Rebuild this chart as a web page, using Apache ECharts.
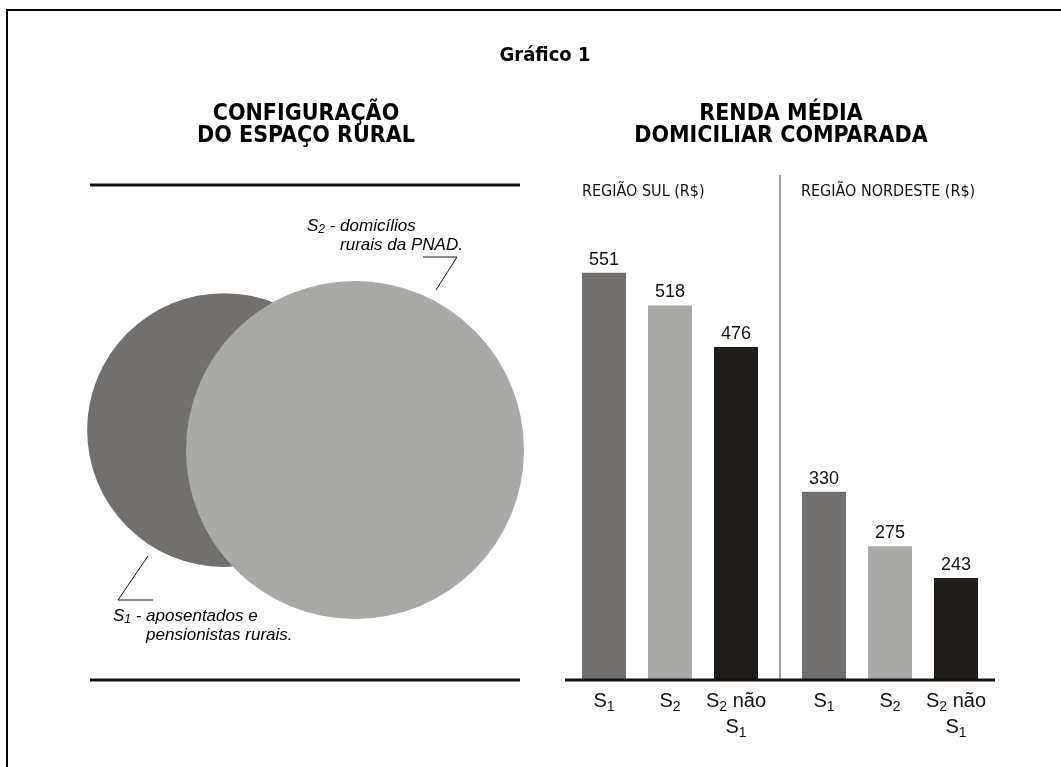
<!DOCTYPE html>
<html>
<head>
<meta charset="utf-8">
<script src="https://cdn.jsdelivr.net/npm/echarts@6/dist/echarts.min.js"></script>
<style>
html,body{margin:0;padding:0;background:#fff;}
#c{width:1061px;height:767px;}
</style>
</head>
<body>
<div id="c"></div>
<script>
// ---- data ----
const chartTitle = 'Gráfico 1';
const leftTitle = 'CONFIGURAÇÃO\nDO ESPAÇO RURAL';
const rightTitle = 'RENDA MÉDIA\nDOMICILIAR COMPARADA';
const regions = ['REGIÃO SUL (R$)', 'REGIÃO NORDESTE (R$)'];
const categories = ['S1', 'S2', 'S2 não S1'];
const sulValues = [551, 518, 476];
const nordesteValues = [330, 275, 243];
// Venn sets (schematic units: center x, center y, radius)
const vennSets = ['S1', 'S2'];
const vennCenterX = [-0.775, 0];
const vennCenterY = [0.118, 0];
const vennRadius = [0.81, 1];
const vennNotes = ['S1 - aposentados e\npensionistas rurais.', 'S2 - domicílios\nrurais da PNAD.'];

// ---- styles ----
const barColors = ['#72706e', '#a9a9a8', '#201c1a'];
const vennColors = ['#72706e', '#a9a9a8'];
const condFont = '"Liberation Sans Narrow", "DejaVu Sans Condensed", "Liberation Sans", Arial, sans-serif';
const sansFont = '"Liberation Sans", Arial, sans-serif';

function catLabel(v) {
  if (v === 'S1') return '{s|S}{sub|1}';
  if (v === 'S2') return '{s|S}{sub|2}';
  return '{s|S}{sub|2}{s| não}\n{s|S}{sub|1}';
}
const labelRich = {
  s: {fontFamily: sansFont, fontSize: 20, color: '#111', lineHeight: 26},
  sub: {fontFamily: sansFont, fontSize: 14, color: '#111', lineHeight: 14, verticalAlign: 'bottom'}
};
const noteRich = {
  t: {fontFamily: sansFont, fontStyle: 'italic', fontSize: 17, color: '#222', lineHeight: 19},
  sub: {fontFamily: sansFont, fontStyle: 'italic', fontSize: 12, color: '#222', lineHeight: 12, verticalAlign: 'bottom'}
};
function noteText(s) {
  return s.split('\n').map(function (line, i) {
    const m = line.match(/^S(\d)(.*)$/);
    const pad = i === 0 ? '' : '       ';
    if (m) return '{t|S}{sub|' + m[1] + '}{t|' + m[2] + '}';
    return '{t|' + pad + line + '}';
  }).join('\n');
}

const chart = echarts.init(document.getElementById('c'));

function barGrid(idx, left) {
  return {left: left, width: 198, top: 244, bottom: 87};
}
function barSeries(idx, values) {
  return {
    type: 'bar', xAxisIndex: idx + 1, yAxisIndex: idx + 1,
    data: values.map(function (v, i) { return {value: v, itemStyle: {color: barColors[i]}}; }),
    barWidth: 44,
    label: {show: true, position: 'top', distance: 4, fontFamily: sansFont, fontSize: 18, color: '#111'},
    silent: true
  };
}
function catAxis(idx) {
  return {gridIndex: idx, type: 'category', data: categories, axisLine: {show: false}, axisTick: {show: false},
    axisLabel: {interval: 0, hideOverlap: false, formatter: catLabel, rich: labelRich, margin: 8}};
}

const option = {
  backgroundColor: '#fff',
  animation: false,
  grid: [
    {left: 84.6, width: 439.4, top: 281, height: 338},
    barGrid(0, 571),
    barGrid(1, 791)
  ],
  xAxis: [
    {gridIndex: 0, type: 'value', min: -1.6, max: 1.0, show: false},
    catAxis(1),
    catAxis(2)
  ],
  yAxis: [
    {gridIndex: 0, type: 'value', min: -1, max: 1, show: false},
    {gridIndex: 1, type: 'value', min: 140, max: 580, show: false},
    {gridIndex: 2, type: 'value', min: 140, max: 580, show: false}
  ],
  series: [
    {
      type: 'custom', xAxisIndex: 0, yAxisIndex: 0, silent: true,
      data: vennSets.map(function (n, i) { return [vennCenterX[i], vennCenterY[i], vennRadius[i]]; }),
      renderItem: function (params, api) {
        const c = api.coord([api.value(0), api.value(1)]);
        const r = api.size([api.value(2), 0])[0];
        return {type: 'circle', shape: {cx: c[0], cy: c[1], r: r}, style: {fill: vennColors[params.dataIndex]}};
      }
    },
    barSeries(0, sulValues),
    barSeries(1, nordesteValues)
  ],
  graphic: [
    // frame
    {type: 'polyline', shape: {points: [[7, 767], [7, 10], [1061, 10]]}, style: {stroke: '#000', lineWidth: 2, fill: null}},
    // titles
    {type: 'text', x: 545, y: 46, style: {text: chartTitle, font: 'bold 20px ' + condFont, fill: '#000', textAlign: 'center'}},
    {type: 'text', x: 306, y: 103, style: {text: leftTitle, font: 'bold 23px ' + condFont, fill: '#000', textAlign: 'center', lineHeight: 22}},
    {type: 'text', x: 781, y: 103, style: {text: rightTitle, font: 'bold 23px ' + condFont, fill: '#000', textAlign: 'center', lineHeight: 22}},
    // left panel rules
    {type: 'line', shape: {x1: 90, y1: 185, x2: 520, y2: 185}, style: {stroke: '#111', lineWidth: 3}},
    {type: 'line', shape: {x1: 90, y1: 680, x2: 520, y2: 680}, style: {stroke: '#111', lineWidth: 3}},
    // region headings
    {type: 'text', x: 582, y: 184, style: {text: regions[0], font: '16px ' + condFont, fill: '#111'}},
    {type: 'text', x: 801, y: 184, style: {text: regions[1], font: '16px ' + condFont, fill: '#111'}},
    // divider
    {type: 'line', shape: {x1: 780, y1: 175, x2: 780, y2: 680}, style: {stroke: '#444', lineWidth: 1}},
    // baseline
    {type: 'line', z: 10, shape: {x1: 565, y1: 680, x2: 995, y2: 680}, style: {stroke: '#111', lineWidth: 3}},
    // venn leaders
    {type: 'polyline', z: 10, shape: {points: [[423, 257], [457, 257], [436, 290]]}, style: {stroke: '#111', lineWidth: 1, fill: null}},
    {type: 'polyline', z: 10, shape: {points: [[148, 556], [118, 600], [153, 600]]}, style: {stroke: '#111', lineWidth: 1, fill: null}},
    // venn notes
    {type: 'text', z: 10, x: 307, y: 217, style: {text: noteText(vennNotes[1]), rich: noteRich}},
    {type: 'text', z: 10, x: 113, y: 607, style: {text: noteText(vennNotes[0]), rich: noteRich}}
  ]
};
chart.setOption(option);
</script>
</body>
</html>
